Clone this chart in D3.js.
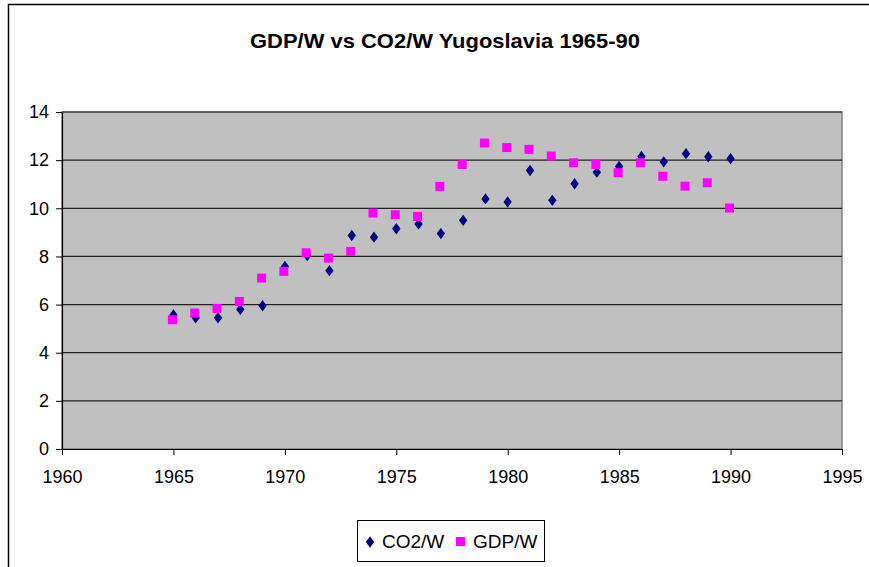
<!DOCTYPE html>
<html lang="en">
<head>
<meta charset="UTF-8">
<script src="https://d3js.org/d3.v7.min.js"></script>
<title>GDP/W vs CO2/W Yugoslavia 1965-90</title>
<style>
  body { margin: 0; background: #fff; }
  text { font-family: Arial, "Liberation Sans", sans-serif; }
</style>
</head>
<body>
<svg width="869" height="567"></svg>
<script>
// data
const years = [1965, 1966, 1967, 1968, 1969, 1970, 1971, 1972, 1973, 1974, 1975, 1976, 1977,
               1978, 1979, 1980, 1981, 1982, 1983, 1984, 1985, 1986, 1987, 1988, 1989, 1990];
const co2 = [5.57, 5.45, 5.45, 5.80, 5.95, 7.58, 8.04, 7.41, 8.87, 8.80, 9.15, 9.35, 8.95,
             9.50, 10.39, 10.26, 11.57, 10.33, 11.02, 11.50, 11.74, 12.15, 11.93, 12.27, 12.14, 12.06];
const gdp = [5.37, 5.65, 5.84, 6.13, 7.10, 7.38, 8.15, 7.93, 8.21, 9.80, 9.73, 9.66, 10.91,
             11.82, 12.71, 12.52, 12.45, 12.17, 11.89, 11.82, 11.48, 11.89, 11.33, 10.92, 11.06, 10.01];
const xTicks = [1960, 1965, 1970, 1975, 1980, 1985, 1990, 1995];
const yTicks = [0, 2, 4, 6, 8, 10, 12, 14];

const svg = d3.select('svg');
const plotL = 62, plotR = 842, plotT = 112, plotB = 449;

const x = d3.scaleLinear().domain([1960, 1995]).range([plotL, plotR]);
const y = d3.scaleLinear().domain([0, 14]).range([plotB, plotT]);

// outer chart frame (left and top edges only visible)
svg.append('path')
  .attr('d', 'M8.5,567 V4.5 H869')
  .attr('fill', 'none').attr('stroke', '#000').attr('stroke-width', 1.5);

// title
svg.append('text')
  .attr('x', 445).attr('y', 48)
  .attr('text-anchor', 'middle')
  .attr('font-size', 21).attr('font-weight', 'bold')
  .attr('textLength', 390).attr('lengthAdjust', 'spacingAndGlyphs')
  .text('GDP/W vs CO2/W Yugoslavia 1965-90');

// plot area
svg.append('rect')
  .attr('x', plotL).attr('y', plotT)
  .attr('width', plotR - plotL).attr('height', plotB - plotT)
  .attr('fill', '#c0c0c0').attr('stroke', '#808080').attr('stroke-width', 1.5);

// gridlines
svg.append('g').selectAll('line')
  .data(yTicks.filter(d => d > 0))
  .join('line')
  .attr('x1', plotL).attr('x2', plotR)
  .attr('y1', d => y(d)).attr('y2', d => y(d))
  .attr('stroke', '#222').attr('stroke-width', 1.2);

// axes
const xAxis = svg.append('g')
  .attr('transform', `translate(0,${plotB})`)
  .call(d3.axisBottom(x).tickValues(xTicks).tickFormat(d3.format('d')).tickSize(6).tickSizeOuter(0).tickPadding(15));
const yAxis = svg.append('g')
  .attr('transform', `translate(${plotL},0)`)
  .call(d3.axisLeft(y).tickValues(yTicks).tickSize(6).tickSizeOuter(0).tickPadding(7));

[xAxis, yAxis].forEach(a => {
  a.select('.domain').attr('stroke', '#000').attr('stroke-width', 1.2);
  a.selectAll('.tick line').attr('stroke', '#000');
  a.selectAll('.tick text').attr('font-size', 18).attr('fill', '#000')
    .attr('font-family', 'Arial, "Liberation Sans", sans-serif');
});

const diamond = d3.symbol().type(d3.symbolDiamond2).size(62);

// CO2/W diamonds
svg.append('g').selectAll('path')
  .data(years)
  .join('path')
  .attr('d', diamond)
  .attr('transform', (d, i) => `translate(${x(d)},${y(co2[i])}) scale(0.85,1.15)`)
  .attr('fill', '#000080');

// GDP/W squares
svg.append('g').selectAll('rect')
  .data(years)
  .join('rect')
  .attr('x', d => x(d) - 5.5)
  .attr('y', (d, i) => y(gdp[i]) - 4.5)
  .attr('width', 9).attr('height', 9)
  .attr('fill', '#ff00ff');

// legend
const lg = svg.append('g');
lg.append('rect')
  .attr('x', 357.5).attr('y', 520.5).attr('width', 187).attr('height', 41)
  .attr('fill', '#fff').attr('stroke', '#000');
lg.append('path')
  .attr('d', diamond)
  .attr('transform', 'translate(370,542) scale(0.85,1.15)')
  .attr('fill', '#000080');
lg.append('text').attr('x', 382).attr('y', 548).attr('font-size', 19).text('CO2/W');
lg.append('rect').attr('x', 456).attr('y', 537).attr('width', 9).attr('height', 9).attr('fill', '#ff00ff');
lg.append('text').attr('x', 473).attr('y', 548).attr('font-size', 19).text('GDP/W');
</script>
</body>
</html>
